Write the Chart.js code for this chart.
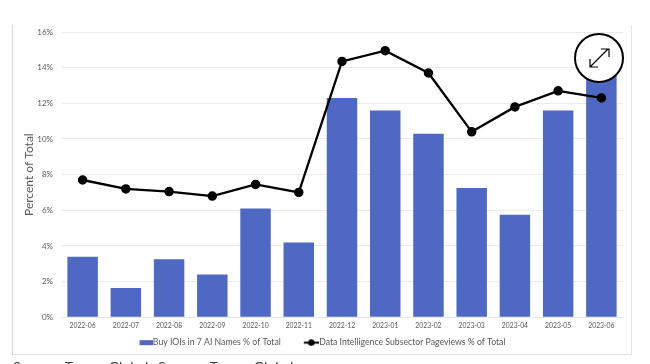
<!DOCTYPE html>
<html>
<head>
<meta charset="utf-8">
<style>
  html, body { margin: 0; background: #fff; overflow: hidden; }
  #wrap { position: relative; width: 650px; height: 364px; overflow: hidden; }
  #frame { position: absolute; left: 12px; top: 25px; width: 618px; height: 329px;
    border-left: 1px solid #d9d9d9; border-right: 1px solid #e6e6e6; border-bottom: 1px solid #e0e0e0; }
  #source { position: absolute; left: 13px; top: 358px; font: 14px Lato, sans-serif; color: #444;
    white-space: nowrap; word-spacing: 3px; }
  #expand { position: absolute; left: 574px; top: 33px; width: 50px; height: 50px; box-sizing: border-box;
    border: 2px solid #000; border-radius: 50%; background: #fff; }
  canvas { position: absolute; left: 0; top: 0; filter: blur(0.4px); }
</style>
</head>
<body>
<div id="wrap">
  <div id="frame"></div>
  <canvas id="chart" width="650" height="364"></canvas>
  <div id="source">Source: Tower Global, Source: Tower Global</div>
  <div id="expand">
    <svg width="46" height="46" viewBox="0 0 46 46" fill="none" stroke="#000" stroke-width="1.2">
      <path d="M14 32 L32 14 M25 14 H33 V22 M14 24 V32 H22"/>
    </svg>
  </div>
</div>
<script src="https://cdn.jsdelivr.net/npm/chart.js@4"></script>
<script>
const months = ["2022-06", "2022-07", "2022-08", "2022-09", "2022-10", "2022-11", "2022-12",
  "2023-01", "2023-02", "2023-03", "2023-04", "2023-05", "2023-06"];
const buyIois = [3.4, 1.65, 3.25, 2.4, 6.1, 4.2, 12.3, 11.6, 10.3, 7.25, 5.75, 11.6, 14.0];
const pageviews = [7.7, 7.2, 7.05, 6.8, 7.45, 7.0, 14.35, 14.95, 13.7, 10.4, 11.8, 12.7, 12.3];

const BLUE = "#4f68c2";
const TEXT = "#595959";

// legend swatches: wider than the legend box so the mark sits right next to the text
function barSwatch() {
  const c = document.createElement("canvas");
  c.width = 36;
  c.height = 7;
  const ctx = c.getContext("2d");
  ctx.fillStyle = BLUE;
  ctx.fillRect(23, 1, 13, 5);
  return c;
}

function lineSwatch() {
  const c = document.createElement("canvas");
  c.width = 36;
  c.height = 7;
  const ctx = c.getContext("2d");
  ctx.fillStyle = "#000";
  ctx.fillRect(21, 2.5, 15, 2);
  ctx.beginPath();
  ctx.arc(28.5, 3.5, 3.2, 0, Math.PI * 2);
  ctx.fill();
  return c;
}

new Chart(document.getElementById("chart").getContext("2d"), {
  data: {
    labels: months,
    datasets: [
      {
        type: "line",
        label: "Data Intelligence Subsector Pageviews % of Total",
        data: pageviews,
        borderColor: "#000",
        backgroundColor: "#000",
        borderWidth: 2.3,
        pointStyle: "circle",
        pointRadius: 3.6,
        pointHoverRadius: 3.6,
        tension: 0,
        order: 1,
      },
      {
        type: "bar",
        label: "Buy IOIs in 7 AI Names % of Total",
        data: buyIois,
        backgroundColor: BLUE,
        categoryPercentage: 1,
        barPercentage: 0.705,
        order: 2,
      },
    ],
  },
  options: {
    responsive: false,
    animation: false,
    layout: { padding: { left: 3, right: 27, top: 32, bottom: 7 } },
    scales: {
      x: {
        afterFit: (scale) => { scale.height = 15; },
        grid: { display: false, drawTicks: false },
        border: { color: "#e6e6e6" },
        ticks: { color: TEXT, font: { family: "Lato", size: 6.8 }, maxRotation: 0, autoSkip: false, padding: 4 },
      },
      y: {
        min: 0,
        max: 16,
        afterFit: (scale) => { scale.width = 58; },
        grid: { color: "#ebebeb", drawTicks: false },
        border: { display: false },
        ticks: {
          stepSize: 2,
          color: TEXT,
          padding: 8,
          font: { family: "Lato", size: 8 },
          callback: (v) => v + "%",
        },
        title: {
          display: true,
          text: "Percent of Total",
          color: TEXT,
          font: { family: "Lato", size: 12 },
          padding: { top: 19, bottom: 0 },
        },
      },
    },
    plugins: {
      tooltip: { enabled: false },
      legend: {
        position: "bottom",
        labels: {
          color: TEXT,
          font: { family: "Lato", size: 8.7 },
          boxHeight: 7,
          padding: 6,
          usePointStyle: true,
          pointStyleWidth: 28,
          generateLabels: () => [
            { text: "Buy IOIs in 7 AI Names % of Total", pointStyle: barSwatch(), fontColor: TEXT, lineWidth: 0 },
            { text: "Data Intelligence Subsector Pageviews % of Total", pointStyle: lineSwatch(), fontColor: TEXT, lineWidth: 0 },
          ],
        },
      },
    },
  },
});
</script>
</body>
</html>
